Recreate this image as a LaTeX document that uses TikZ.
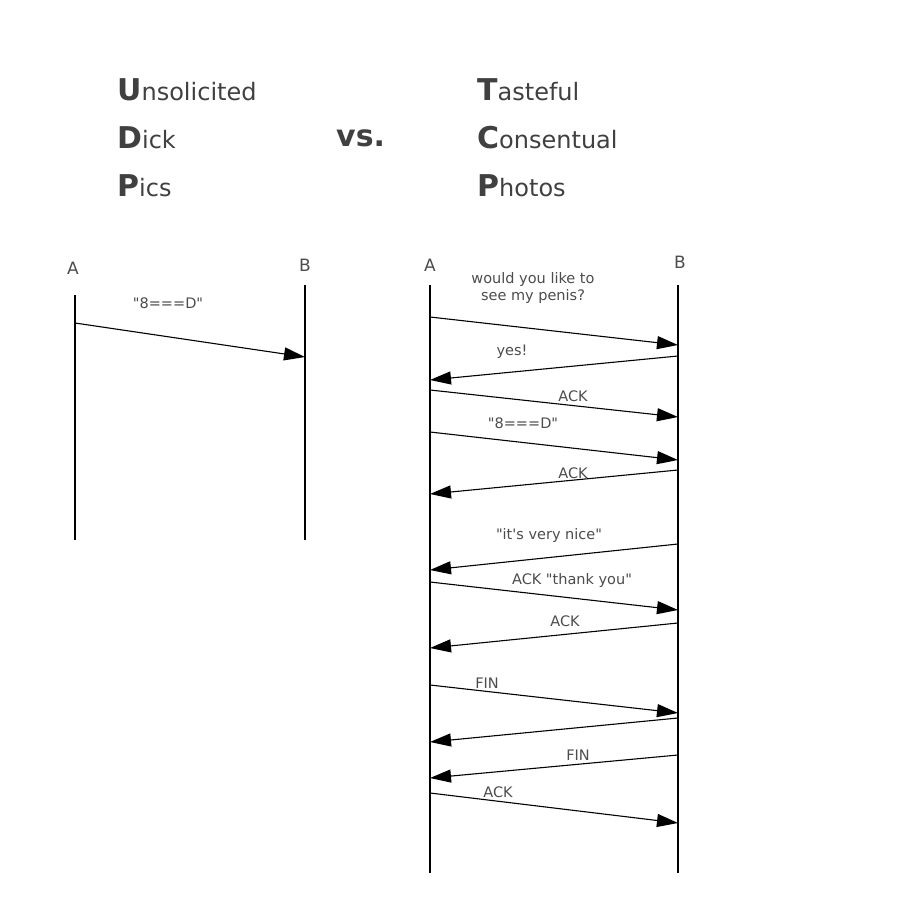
\documentclass[tikz,border=0pt]{standalone}
\usepackage{fontspec}
\setmainfont{DejaVu Sans}[Ligatures=TeXOff]
\usetikzlibrary{arrows.meta}
\begin{document}
\begin{tikzpicture}[x=1pt,y=-1pt,
  life/.style={line width=1.6pt},
  msg/.style={line width=1.1pt,-{Triangle[length=21pt,width=13pt]}},
  lbl/.style={font=\fontsize{14.5}{17}\selectfont,text=black!70,inner sep=1pt},
  ttl/.style={font=\fontsize{24}{26}\selectfont,text=black!75,anchor=west,inner sep=0pt},
  hd/.style={font=\fontsize{17}{19}\selectfont,text=black!70,inner sep=0pt}]
\useasboundingbox (0,0) rectangle (916,924);
% titles
\node[ttl] (t1) at (117,90) {\textbf{\fontsize{30}{30}\selectfont U}nsolicited};
\node[ttl] (t2) at (117,138) {\textbf{\fontsize{30}{30}\selectfont D}ick};
\node[ttl] (t3) at (117,186) {\textbf{\fontsize{30}{30}\selectfont P}ics};
\node[ttl] (vs) at (336,138) {\textbf{\fontsize{30}{30}\selectfont vs.}};
\node[ttl] (t4) at (477,90) {\textbf{\fontsize{30}{30}\selectfont T}asteful};
\node[ttl] (t5) at (477,138) {\textbf{\fontsize{30}{30}\selectfont C}onsentual};
\node[ttl] (t6) at (477,186) {\textbf{\fontsize{30}{30}\selectfont P}hotos};
% left
\node[hd] (la) at (73,268) {A};
\node[hd] (lb) at (305,265) {B};
\coordinate (la1) at (75,295); \coordinate (la2) at (75,540);
\coordinate (lb1) at (305,285); \coordinate (lb2) at (305,540);
\draw[life] (la1) -- (la2);
\draw[life] (lb1) -- (lb2);
\coordinate (m0s) at (75,323); \coordinate (m0e) at (305,357);
\draw[msg] (m0s) -- (m0e);
\node[lbl] (l0) at (168,303) {"8===D"};
% right
\node[hd] (ra) at (430,265) {A};
\node[hd] (rb) at (680,262) {B};
\coordinate (ra1) at (430,285); \coordinate (ra2) at (430,873);
\coordinate (rb1) at (678,285); \coordinate (rb2) at (678,873);
\draw[life] (ra1) -- (ra2);
\draw[life] (rb1) -- (rb2);
\foreach \i/\d/\ys/\ye in {1/r/317/345,2/l/356/380,3/r/390/417,4/r/432/460,5/l/470/494,6/l/544/570,7/r/582/610,8/l/623/648,9/r/685/713,10/l/718/742,11/l/755/778,12/r/793/823}{
  \if\d r
    \coordinate (s\i) at (430,\ys); \coordinate (e\i) at (678,\ye);
  \else
    \coordinate (s\i) at (678,\ys); \coordinate (e\i) at (430,\ye);
  \fi
  \draw[msg] (s\i) -- (e\i);
}
\node[lbl,align=center] (r1) at (533,288) {would you like to\\see my penis?};
\node[lbl] (r2) at (512,352) {yes!};
\node[lbl] (r3) at (573,396) {ACK};
\node[lbl] (r4) at (523,423) {"8===D"};
\node[lbl] (r5) at (573,473) {ACK};
\node[lbl] (r6) at (549,535) {"it's very nice"};
\node[lbl] (r7) at (572,580) {ACK "thank you"};
\node[lbl] (r8) at (565,621) {ACK};
\node[lbl] (r9) at (487,683) {FIN};
\node[lbl] (r11) at (578,755) {FIN};
\node[lbl] (r12) at (498,792) {ACK};
\end{tikzpicture}
\end{document}
